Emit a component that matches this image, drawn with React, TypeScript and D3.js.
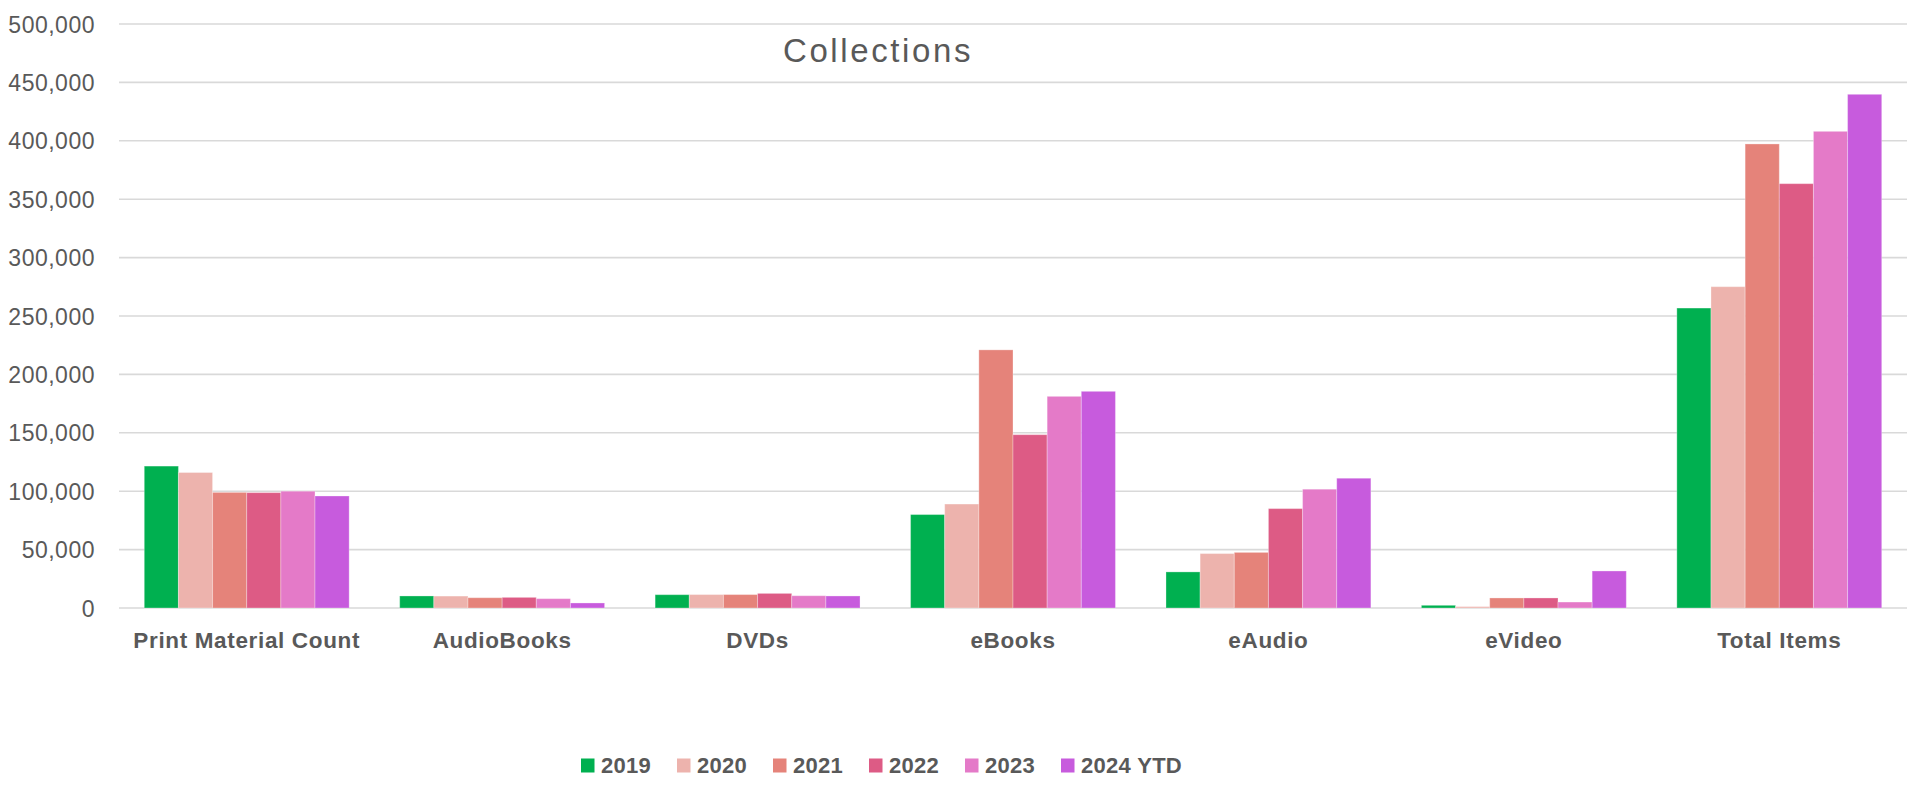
import React from "react";
import * as d3 from "d3";

const categories = ["Print Material Count", "AudioBooks", "DVDs", "eBooks", "eAudio", "eVideo", "Total Items"];
const seriesNames = ["2019", "2020", "2021", "2022", "2023", "2024 YTD"];
const seriesColors = ["#00B050", "#EDB3AD", "#E5837A", "#DD5B85", "#E47AC8", "#C75BDD"];

const values2019 = [121500, 10300, 11400, 80000, 30900, 2300, 256800];
const values2020 = [116000, 10200, 11500, 89000, 46600, 1200, 275100];
const values2021 = [99000, 8800, 11500, 221000, 47600, 8600, 397300];
const values2022 = [98800, 9100, 12500, 148400, 85100, 8600, 363300];
const values2023 = [100000, 8000, 10500, 181200, 101700, 5100, 408100];
const values2024 = [95900, 4300, 10300, 185500, 111100, 31700, 439800];
const seriesValues = [values2019, values2020, values2021, values2022, values2023, values2024];

const yTicks = [0, 50000, 100000, 150000, 200000, 250000, 300000, 350000, 400000, 450000, 500000];
const title = "Collections";

const W = 1908;
const H = 786;
const plotLeft = 119;
const plotRight = 1907;
const plotTop = 24;
const plotBottom = 608;
const textColor = "#595959";
const font = "'Liberation Sans', Arial, Helvetica, sans-serif";

export default function App() {
  const x = d3.scaleBand<string>().domain(categories).range([plotLeft, plotRight]).paddingInner(0).paddingOuter(0);
  const y = d3.scaleLinear().domain([0, 500000]).range([plotBottom, plotTop]);
  const groupFrac = 6 / 7.48;
  const inner = d3
    .scaleBand<string>()
    .domain(seriesNames)
    .range([(x.bandwidth() * (1 - groupFrac)) / 2, x.bandwidth() * (1 - (1 - groupFrac) / 2)])
    .padding(0);
  const fmt = d3.format(",");
  const legendX = d3.scalePoint<string>().domain(seriesNames).range([581, 581 + 96 * 5]);

  return (
    <svg
      width={W}
      height={H}
      style={{ position: "absolute", left: 0, top: 0, display: "block", background: "#fff" }}
      fontFamily={font}
    >
      {yTicks.map((t) => (
        <line key={"g" + t} x1={plotLeft} x2={plotRight} y1={y(t)} y2={y(t)} stroke="#D9D9D9" strokeWidth={1.6} />
      ))}
      {yTicks.map((t) => (
        <text
          key={"yl" + t}
          x={95}
          y={y(t) + 8.5}
          textAnchor="end"
          fontSize={23}
          letterSpacing={0.5}
          fill={textColor}
        >
          {fmt(t)}
        </text>
      ))}
      {categories.map((c, ci) => (
        <g key={c} transform={`translate(${x(c)},0)`}>
          {seriesNames.map((s, si) => {
            const v = seriesValues[si][ci];
            return (
              <rect
                key={s}
                x={inner(s)}
                y={y(v)}
                width={inner.bandwidth()}
                height={y(0) - y(v)}
                fill={seriesColors[si]}
                stroke="#ffffff"
                strokeOpacity={0.3}
                strokeWidth={1}
              />
            );
          })}
        </g>
      ))}
      {categories.map((c) => (
        <text
          key={"cl" + c}
          x={(x(c) as number) + x.bandwidth() / 2}
          y={648}
          textAnchor="middle"
          fontSize={22.5}
          fontWeight="bold"
          letterSpacing={0.65}
          fill={textColor}
        >
          {c}
        </text>
      ))}
      <text x={878} y={62} textAnchor="middle" fontSize={33} letterSpacing={2.6} fill={textColor}>
        {title}
      </text>
      {seriesNames.map((s, si) => (
        <g key={"lg" + s} transform={`translate(${legendX(s)},0)`}>
          <rect x={0} y={758.5} width={13.5} height={14} fill={seriesColors[si]} />
          <text x={20} y={773} fontSize={22} fontWeight="bold" letterSpacing={0.3} fill={textColor}>
            {s}
          </text>
        </g>
      ))}
    </svg>
  );
}
